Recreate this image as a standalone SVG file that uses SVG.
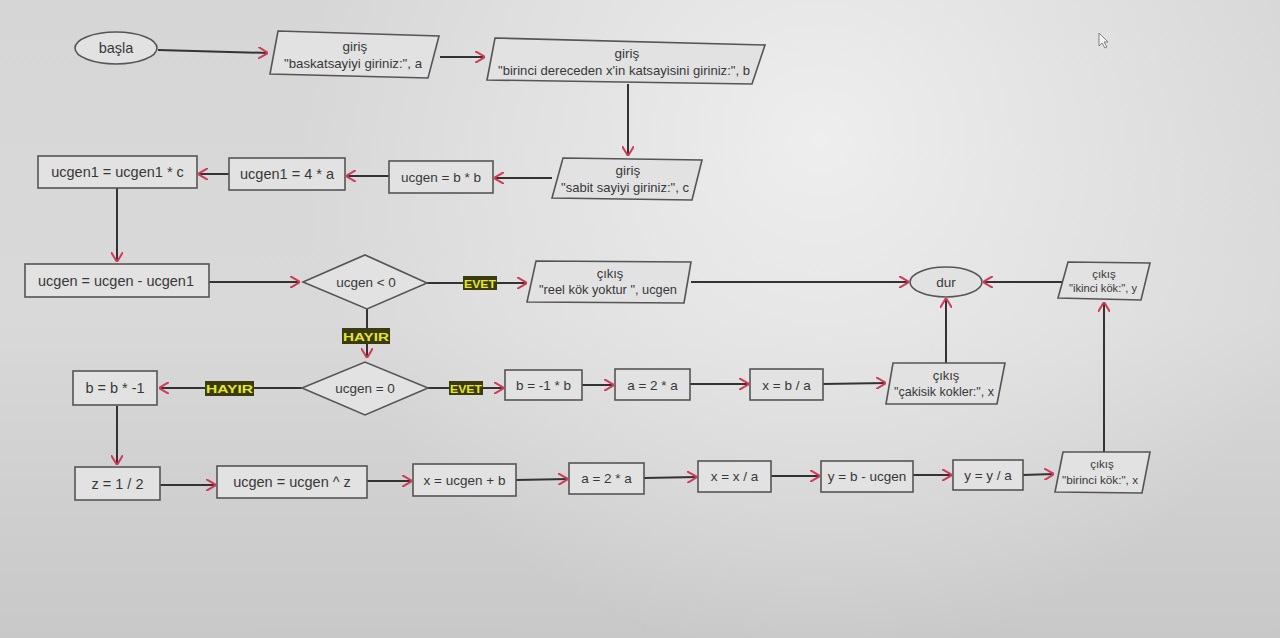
<svg xmlns="http://www.w3.org/2000/svg" width="1280" height="638" viewBox="0 0 1280 638">
  <defs>
    <linearGradient id="bg" x1="0" y1="0" x2="0" y2="1">
      <stop offset="0" stop-color="#d6d6d6"/>
      <stop offset="0.5" stop-color="#d9d9d9"/>
      <stop offset="1" stop-color="#c8c8c8"/>
    </linearGradient>
    <radialGradient id="glow" cx="820" cy="140" r="520" gradientUnits="userSpaceOnUse">
      <stop offset="0" stop-color="#efefef" stop-opacity="0.95"/>
      <stop offset="1" stop-color="#efefef" stop-opacity="0"/>
    </radialGradient>
    <marker id="arr" viewBox="0 0 10 12" refX="10" refY="6" markerWidth="10" markerHeight="12" markerUnits="userSpaceOnUse" orient="auto">
      <path d="M0,0 L10,6 L0,12" fill="none" stroke="#d23a58" stroke-width="2"/>
    </marker>
    <style>
      .shape { fill: #e2e2e2; stroke: #555; stroke-width: 1.6; }
      .t { font-family: "Liberation Sans", Arial, sans-serif; font-size: 14.5px; fill: #383838; text-anchor: middle; }
      .ts { font-family: "Liberation Sans", Arial, sans-serif; font-size: 13.5px; fill: #383838; text-anchor: middle; }
      .tp { font-family: "Liberation Sans", Arial, sans-serif; font-size: 13px; fill: #383838; text-anchor: middle; }
      .tx { font-family: "Liberation Sans", Arial, sans-serif; font-size: 11.5px; fill: #383838; text-anchor: middle; }
      .edge { stroke: #333; stroke-width: 2; fill: none; marker-end: url(#arr); }
      .lblbox { fill: #3b3b12; }
      .lbl { font-family: "Liberation Sans", Arial, sans-serif; font-size: 11.5px; font-weight: bold; fill: #e6e62a; text-anchor: middle; }
    </style>
  </defs>

  <rect width="1280" height="638" fill="url(#bg)"/>
  <rect width="1280" height="638" fill="url(#glow)"/>

  <!-- connectors -->
  <g id="connectors">
    <path class="edge" d="M158,50 L268,53"/>
    <path class="edge" d="M440,57 L485,57"/>
    <path class="edge" d="M628,84 L628,156"/>
    <path class="edge" d="M552,178 L494,178"/>
    <path class="edge" d="M389,176 L346,176"/>
    <path class="edge" d="M229,174 L198,174"/>
    <path class="edge" d="M117,188 L117,262"/>
    <path class="edge" d="M209,282 L300,282"/>
    <path class="edge" d="M427,283 L527,283"/>
    <path class="edge" d="M367,309 L367,358"/>
    <path class="edge" d="M691,282 L909,282"/>
    <path class="edge" d="M1066,282 L983,282"/>
    <path class="edge" d="M946,363 L946,298"/>
    <path class="edge" d="M1104,452 L1104,302"/>
    <path class="edge" d="M302,388 L159,388"/>
    <path class="edge" d="M428,388 L504,388"/>
    <path class="edge" d="M582,385 L614,385"/>
    <path class="edge" d="M690,384 L749,384"/>
    <path class="edge" d="M823,384 L886,383"/>
    <path class="edge" d="M117,406 L117,465"/>
    <path class="edge" d="M160,485 L216,485"/>
    <path class="edge" d="M367,481 L412,481"/>
    <path class="edge" d="M516,480 L568,479"/>
    <path class="edge" d="M644,478 L697,477"/>
    <path class="edge" d="M771,476 L820,476"/>
    <path class="edge" d="M913,475 L952,475"/>
    <path class="edge" d="M1023,475 L1054,474"/>
    <!-- branch labels -->
    <rect class="lblbox" x="463" y="276" width="34" height="14"/>
    <text class="lbl" x="480" y="287.5" textLength="32" lengthAdjust="spacingAndGlyphs">EVET</text>
    <rect class="lblbox" x="342" y="328" width="48" height="16"/>
    <text class="lbl" x="366" y="340.5" textLength="46" lengthAdjust="spacingAndGlyphs">HAYIR</text>
    <rect class="lblbox" x="205" y="381" width="49" height="15"/>
    <text class="lbl" x="229.5" y="393" textLength="47" lengthAdjust="spacingAndGlyphs">HAYIR</text>
    <rect class="lblbox" x="449" y="381" width="34" height="14"/>
    <text class="lbl" x="466" y="392.5" textLength="32" lengthAdjust="spacingAndGlyphs">EVET</text>
  </g>

  <!-- row 1 -->
  <g id="basla">
    <ellipse class="shape" cx="116" cy="48" rx="41" ry="16"/>
    <text class="t" x="116" y="53">başla</text>
  </g>
  <g id="giris-a">
    <polygon class="shape" points="278,31 439,36 428,78 270,74"/>
    <text class="ts" x="355" y="51">giriş</text>
    <text class="ts" x="353" y="68" textLength="138" lengthAdjust="spacingAndGlyphs">"baskatsayiyi giriniz:", a</text>
  </g>
  <g id="giris-b">
    <polygon class="shape" points="495,38 765,45 752,84 487,80"/>
    <text class="ts" x="627" y="58">giriş</text>
    <text class="ts" x="624" y="75" textLength="252" lengthAdjust="spacingAndGlyphs">"birinci dereceden x'in katsayisini giriniz:", b</text>
  </g>

  <!-- row 2 -->
  <g id="giris-c">
    <polygon class="shape" points="563,158 702,160 692,200 552,198"/>
    <text class="ts" x="628" y="175">giriş</text>
    <text class="ts" x="625" y="192" textLength="128" lengthAdjust="spacingAndGlyphs">"sabit sayiyi giriniz:", c</text>
  </g>
  <g id="ucgen-bb">
    <rect class="shape" x="389" y="161" width="104" height="32"/>
    <text class="ts" x="441" y="182">ucgen = b * b</text>
  </g>
  <g id="ucgen1-4a">
    <rect class="shape" x="229" y="158" width="116" height="32"/>
    <text class="t" x="287" y="179">ucgen1 = 4 * a</text>
  </g>
  <g id="ucgen1-c">
    <rect class="shape" x="38" y="156" width="159" height="32"/>
    <text class="t" x="117.5" y="177">ucgen1 = ucgen1 * c</text>
  </g>

  <!-- row 3 -->
  <g id="ucgen-diff">
    <rect class="shape" x="25" y="264" width="184" height="33"/>
    <text class="t" x="116" y="286">ucgen = ucgen - ucgen1</text>
  </g>
  <g id="cond-neg">
    <polygon class="shape" points="303,282 365,255 427,283 367,309"/>
    <text class="ts" x="366" y="287">ucgen &lt; 0</text>
  </g>
  <g id="out-reel">
    <polygon class="shape" points="536,261 691,262 684,303 527,302"/>
    <text class="tp" x="610" y="278">çıkış</text>
    <text class="tp" x="608" y="294" textLength="138" lengthAdjust="spacingAndGlyphs">"reel kök yoktur ", ucgen</text>
  </g>
  <g id="dur">
    <ellipse class="shape" cx="946" cy="282" rx="36" ry="15"/>
    <text class="ts" x="946" y="287">dur</text>
  </g>
  <g id="out-ikinci">
    <polygon class="shape" points="1068,262 1150,263 1141,300 1058,298"/>
    <text class="tx" x="1104" y="278">çıkış</text>
    <text class="tx" x="1103" y="292" textLength="68" lengthAdjust="spacingAndGlyphs">"ikinci kök:", y</text>
  </g>

  <!-- row 4 -->
  <g id="b-neg">
    <rect class="shape" x="73" y="371" width="84" height="34"/>
    <text class="t" x="115" y="393">b = b * -1</text>
  </g>
  <g id="cond-zero">
    <polygon class="shape" points="302,388 365,362 428,388 365,415"/>
    <text class="ts" x="365" y="393">ucgen = 0</text>
  </g>
  <g id="b-m1">
    <rect class="shape" x="505" y="370" width="77" height="30"/>
    <text class="ts" x="543.5" y="390">b = -1 * b</text>
  </g>
  <g id="a-2a-1">
    <rect class="shape" x="615" y="369" width="75" height="31"/>
    <text class="ts" x="652.5" y="390">a = 2 * a</text>
  </g>
  <g id="x-ba">
    <rect class="shape" x="750" y="369" width="73" height="31"/>
    <text class="ts" x="786.5" y="390">x = b / a</text>
  </g>
  <g id="out-cakisik">
    <polygon class="shape" points="893,363 1005,363 997,404 886,404"/>
    <text class="tp" x="946" y="380">çıkış</text>
    <text class="tp" x="944" y="396" textLength="100" lengthAdjust="spacingAndGlyphs">"çakisik kokler:", x</text>
  </g>

  <!-- row 5 -->
  <g id="z-half">
    <rect class="shape" x="75" y="467" width="85" height="33"/>
    <text class="t" x="117.5" y="489">z = 1 / 2</text>
  </g>
  <g id="ucgen-pow">
    <rect class="shape" x="217" y="466" width="150" height="32"/>
    <text class="t" x="292" y="487">ucgen = ucgen ^ z</text>
  </g>
  <g id="x-sum">
    <rect class="shape" x="413" y="464" width="103" height="32"/>
    <text class="ts" x="464.5" y="485">x = ucgen + b</text>
  </g>
  <g id="a-2a-2">
    <rect class="shape" x="569" y="463" width="75" height="31"/>
    <text class="ts" x="606.5" y="483">a = 2 * a</text>
  </g>
  <g id="x-xa">
    <rect class="shape" x="698" y="461" width="73" height="31"/>
    <text class="ts" x="734.5" y="481">x = x / a</text>
  </g>
  <g id="y-diff">
    <rect class="shape" x="821" y="461" width="92" height="31"/>
    <text class="ts" x="867" y="481">y = b - ucgen</text>
  </g>
  <g id="y-ya">
    <rect class="shape" x="953" y="460" width="70" height="30"/>
    <text class="ts" x="988" y="480">y = y / a</text>
  </g>
  <g id="out-birinci">
    <polygon class="shape" points="1063,452 1150,452 1142,493 1055,492"/>
    <text class="tx" x="1102" y="468">çıkış</text>
    <text class="tx" x="1100" y="484" textLength="76" lengthAdjust="spacingAndGlyphs">"birinci kök:", x</text>
  </g>

  <!-- mouse pointer -->
  <path d="M1099,33 L1099,46 L1102,43 L1105,48 L1107,47 L1104,42 L1108,42 Z" fill="#f4f4f4" stroke="#666" stroke-width="0.8"/>
</svg>
